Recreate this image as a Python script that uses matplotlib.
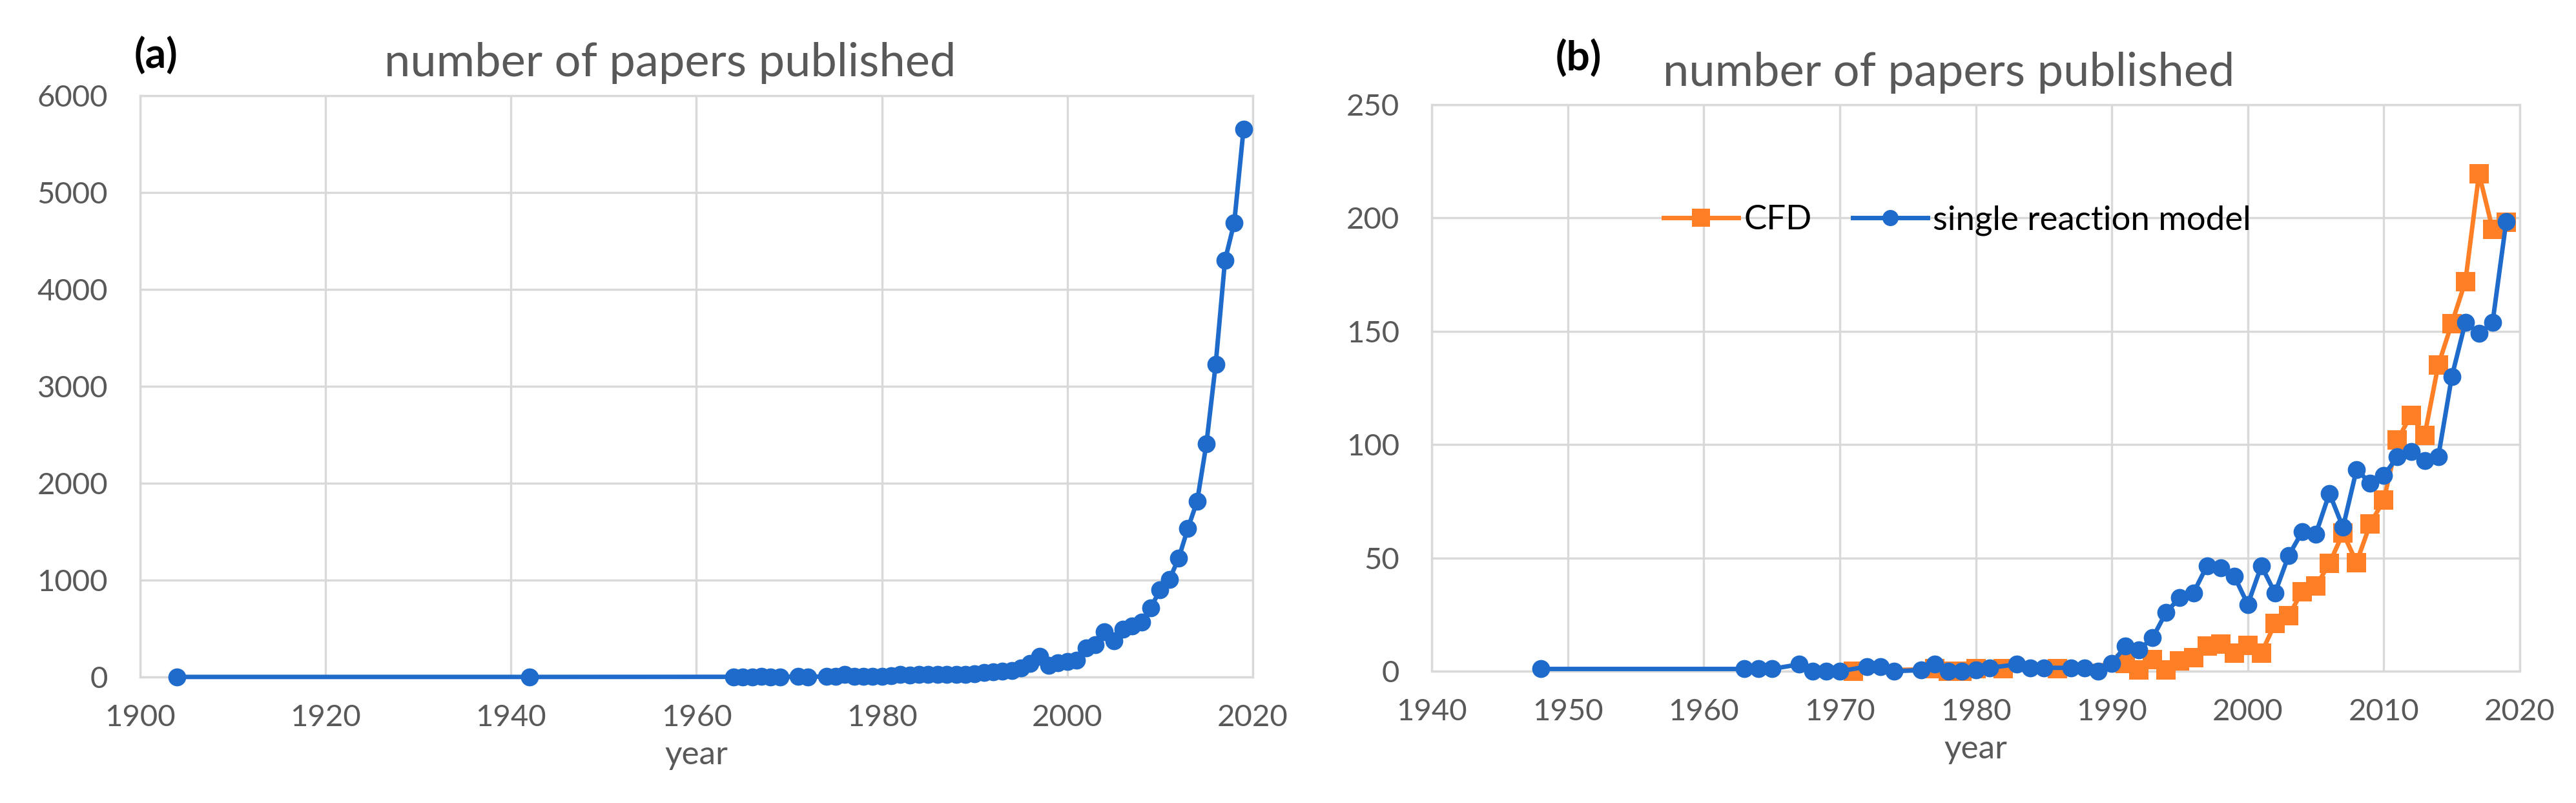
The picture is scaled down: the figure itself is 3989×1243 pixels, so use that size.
import matplotlib
matplotlib.use("Agg")
import matplotlib.pyplot as plt

# ---------------- data ----------------
years_a = [1904, 1942, 1964, 1965, 1966, 1967, 1968, 1969, 1971, 1972, 1974, 1975,
           1976, 1977, 1978, 1979, 1980, 1981, 1982, 1983, 1984, 1985, 1986, 1987,
           1988, 1989, 1990, 1991, 1992, 1993, 1994, 1995, 1996, 1997, 1998, 1999,
           2000, 2001, 2002, 2003, 2004, 2005, 2006, 2007, 2008, 2009, 2010, 2011,
           2012, 2013, 2014, 2015, 2016, 2017, 2018, 2019]
papers_a = [1, 1, 2, 1, 3, 5, 2, 3, 4, 3, 5, 8,
            30, 10, 5, 6, 8, 12, 25, 22, 24, 26, 24, 25,
            28, 30, 35, 45, 55, 60, 65, 95, 140, 215, 120, 150,
            160, 175, 300, 335, 470, 375, 495, 525, 565, 715, 900, 1005,
            1225, 1535, 1815, 2410, 3230, 4300, 4690, 5655]

years_srm = [1948, 1963, 1964, 1965, 1967, 1968, 1969, 1970, 1972, 1973, 1974, 1976,
             1977, 1978, 1979, 1980, 1981, 1983, 1984, 1985, 1987, 1988, 1989, 1990,
             1991, 1992, 1993, 1994, 1995, 1996, 1997, 1998, 1999, 2000, 2001, 2002,
             2003, 2004, 2005, 2006, 2007, 2008, 2009, 2010, 2011, 2012, 2013, 2014,
             2015, 2016, 2017, 2018, 2019]
srm = [1, 1, 1, 1, 3, 0, 0, 0, 2, 2, 0, 0.5,
       3, 0, 0, 0.5, 1.5, 3, 1.5, 1.5, 1.5, 1.5, 0, 3.5,
       11, 9.5, 14.7, 26, 32.5, 34.5, 46.5, 45.5, 42, 29.5, 46.5, 34.5,
       51, 61.5, 60.5, 78.5, 63.5, 89, 83, 86.5, 94.5, 97, 93, 94.5,
       130, 154, 149, 154, 198.5]

years_cfd = [1971, 1977, 1978, 1979, 1980, 1982, 1986, 1991, 1992, 1993, 1994, 1995,
             1996, 1997, 1998, 1999, 2000, 2001, 2002, 2003, 2004, 2005, 2006, 2007,
             2008, 2009, 2010, 2011, 2012, 2013, 2014, 2015, 2016, 2017, 2018, 2019]
cfd = [0, 1, 0, 0, 1, 1, 1, 3.5, 0.7, 5, 0.7, 4.5,
       6, 11, 12, 8, 11.5, 8, 21, 24.5, 35, 37.5, 47.5, 61,
       48, 65, 75.5, 102, 113, 104, 135, 153.5, 172, 219.5, 195, 198]

xticks_a = [1900, 1920, 1940, 1960, 1980, 2000, 2020]
yticks_a = [0, 1000, 2000, 3000, 4000, 5000, 6000]
xticks_b = [1940, 1950, 1960, 1970, 1980, 1990, 2000, 2010, 2020]
yticks_b = [0, 50, 100, 150, 200, 250]

# ---------------- style ----------------
FONT = ["Lato", "DejaVu Sans"]
plt.rcParams["font.family"] = FONT
BLUE = "#1F6BCB"
ORANGE = "#FF7F27"
GRAY_TXT = "#595959"
GRID = "#D9D9D9"
W, H = 3989, 1243
DPI = 100

fig = plt.figure(figsize=(W / DPI, H / DPI), dpi=DPI)
fig.patch.set_facecolor("white")


def px_axes(left, top, right, bottom):
    return fig.add_axes([left / W, 1 - bottom / H, (right - left) / W, (bottom - top) / H])


def style_axes(ax):
    ax.grid(True, color=GRID, linewidth=2.4, zorder=0)
    ax.set_axisbelow(True)
    for s in ax.spines.values():
        s.set_color(GRID)
        s.set_linewidth(2.4)
    ax.tick_params(axis="both", length=0, labelsize=34, labelcolor=GRAY_TXT)
    ax.tick_params(axis="y", pad=36)
    ax.tick_params(axis="x", pad=30)
    ax.set_xlabel("year", fontsize=37, color=GRAY_TXT, labelpad=10)


# ---- panel (a)
ax1 = px_axes(217, 148, 1940, 1048)
style_axes(ax1)
ax1.plot(years_a, papers_a, color=BLUE, linewidth=5, marker="o", markersize=20,
         markeredgewidth=0, clip_on=False, zorder=3)
ax1.set_xlim(1900, 2020)
ax1.set_ylim(0, 6000)
ax1.set_xticks(xticks_a)
ax1.set_yticks(yticks_a)

fig.text(1038 / W, 1 - 118 / H, "number of papers published", fontsize=52,
         color=GRAY_TXT, ha="center", va="baseline")
fig.text(208 / W, 1 - 85 / H, "(a)", fontsize=46, fontweight="bold",
         color="black", ha="left", va="center")

# ---- panel (b)
ax2 = px_axes(2217, 162, 3902, 1039)
style_axes(ax2)
ax2.plot(years_cfd, cfd, color=ORANGE, linewidth=5, marker="s", markersize=22,
         markeredgewidth=0, clip_on=False, zorder=3, label="CFD")
ax2.plot(years_srm, srm, color=BLUE, linewidth=5, marker="o", markersize=20,
         markeredgewidth=0, clip_on=False, zorder=4, label="single reaction model")
ax2.set_xlim(1940, 2020)
ax2.set_ylim(0, 250)
ax2.set_xticks(xticks_b)
ax2.set_yticks(yticks_b)
leg = ax2.legend(loc="center", bbox_to_anchor=(0.483, 0.796), ncol=2, frameon=False,
                 fontsize=38, handlelength=2.2, handletextpad=0.15, columnspacing=1.2,
                 markerscale=0.9)
for t in leg.get_texts():
    t.set_color("black")

fig.text(3018 / W, 1 - 133 / H, "number of papers published", fontsize=52,
         color=GRAY_TXT, ha="center", va="baseline")
fig.text(2409 / W, 1 - 89 / H, "(b)", fontsize=46, fontweight="bold",
         color="black", ha="left", va="center")

fig.savefig("out.png", dpi=DPI, facecolor="white")
